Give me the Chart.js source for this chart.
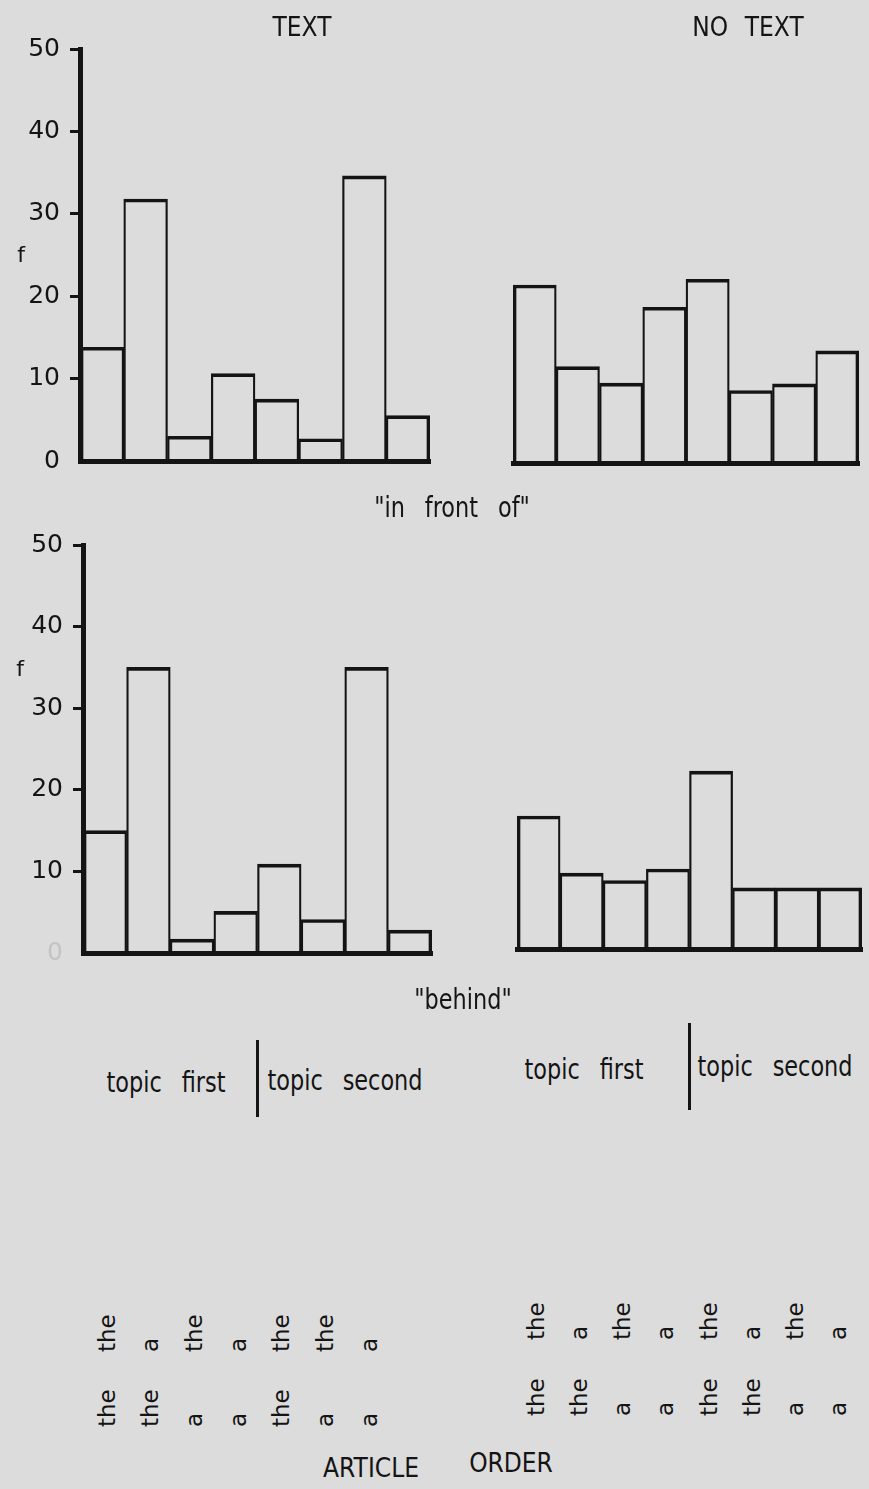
<!DOCTYPE html>
<html>
<head>
<meta charset="utf-8">
<title>Article order: "in front of" / "behind"</title>
<script src="https://cdn.jsdelivr.net/npm/chart.js@4.4.1/dist/chart.umd.min.js"></script>
<style>
  html, body { margin: 0; padding: 0; background: #dcdcdc; }
  #page { position: relative; width: 869px; height: 1489px; overflow: hidden; background: #dcdcdc;
          font-family: "DejaVu Sans", sans-serif; color: #141414; }
  #page canvas { position: absolute; }
  .lbl { position: absolute; white-space: pre; line-height: 1; }
  .rot { position: absolute; white-space: pre; line-height: 1; font-size: 23px;
         transform-origin: 0 0; transform: rotate(-90deg); }
  .divider { position: absolute; width: 3px; background: #141414; }
</style>
</head>
<body>
<div id="page">
  <canvas id="textFront" width="440" height="500" style="left:0;top:0"></canvas>
  <canvas id="noTextFront" width="429" height="500" style="left:440px;top:0"></canvas>
  <canvas id="textBehind" width="440" height="499" style="left:0;top:490px"></canvas>
  <canvas id="noTextBehind" width="429" height="499" style="left:440px;top:490px"></canvas>
</div>
<script>
// bar heights (f), left to right
const textFront    = [13.8, 31.8, 3.0, 10.6, 7.5, 2.7, 34.6, 5.5];
const noTextFront  = [21.6, 11.7, 9.7, 18.9, 22.3, 8.8, 9.6, 13.6];
const textBehind   = [15.0, 35.0, 1.7, 5.1, 10.9, 4.1, 35.0, 2.8];
const noTextBehind = [16.3, 9.3, 8.4, 9.8, 21.8, 7.5, 7.5, 7.5];

const columns = [1, 2, 3, 4, 5, 6, 7, 8];
const yTicks = [0, 10, 20, 30, 40, 50];

// article order printed under the columns (upper row / lower row)
const textArticleTop      = ['the', 'a', 'the', 'a', 'the', 'the', 'a'];
const textArticleBottom   = ['the', 'the', 'a', 'a', 'the', 'a', 'a'];
const noTextArticleTop    = ['the', 'a', 'the', 'a', 'the', 'a', 'the', 'a'];
const noTextArticleBottom = ['the', 'the', 'a', 'a', 'the', 'the', 'a', 'a'];

const ink = '#141414';
const page = document.getElementById('page');

function panel(id, values, pad, axisWidth, zeroColor) {
  const last = values.length - 1;
  return new Chart(document.getElementById(id), {
    type: 'bar',
    data: {
      labels: columns,
      datasets: [{
        data: values,
        backgroundColor: 'rgba(0,0,0,0)',
        borderColor: ink,
        borderWidth: c => ({ top: 3, bottom: 0,
          left: c.dataIndex === 0 ? 3 : 1.6,
          right: c.dataIndex === last ? 3 : 1.6 }),
        borderSkipped: 'bottom',
        categoryPercentage: 1,
        barPercentage: 1
      }]
    },
    options: {
      responsive: false,
      animation: false,
      events: [],
      layout: { padding: pad },
      plugins: { legend: { display: false }, tooltip: { enabled: false } },
      scales: {
        x: {
          grid: { display: true, drawOnChartArea: false, drawTicks: false },
          ticks: { display: false },
          border: { display: true, width: 5, color: ink },
          afterFit: s => { s.height = 0; }
        },
        y: {
          display: axisWidth > 0,
          min: 0,
          max: 50,
          afterBuildTicks: s => { s.ticks = yTicks.map(v => ({ value: v })); },
          afterFit: s => { s.width = axisWidth; },
          grid: {
            drawOnChartArea: false,
            tickLength: 10,
            lineWidth: 3,
            color: c => (c.tick && c.tick.value === 0) ? 'rgba(0,0,0,0)' : ink
          },
          border: { display: true, width: 5, color: ink },
          ticks: {
            padding: 10,
            color: c => (c.tick && c.tick.value === 0) ? zeroColor : ink,
            font: { family: 'DejaVu Sans', size: 25 }
          }
        }
      }
    }
  });
}

const c1 = panel('textFront', textFront, { top: 49, right: 10, bottom: 39, left: 0 }, 80, ink);
const c2 = panel('noTextFront', noTextFront, { top: 51, right: 10, bottom: 37, left: 73 }, 0, ink);
const c3 = panel('textBehind', textBehind, { top: 55, right: 8, bottom: 36, left: 0 }, 83, '#c4c4c4');
const c4 = panel('noTextBehind', noTextBehind, { top: 51, right: 7, bottom: 40, left: 77 }, 0, ink);

function text(str, cx, baseline, size, sx, ws) {
  const el = document.createElement('span');
  el.className = 'lbl';
  el.textContent = str;
  el.style.fontSize = size + 'px';
  el.style.wordSpacing = (ws || 0) + 'px';
  el.style.left = cx + 'px';
  el.style.top = (baseline - 0.846 * size) + 'px';
  el.style.transform = 'translateX(-50%) scaleX(' + sx + ')';
  page.appendChild(el);
}

function articles(chart, canvasLeft, words, startY, shift) {
  const xs = chart.scales.x;
  words.forEach((w, i) => {
    const el = document.createElement('span');
    el.className = 'rot';
    el.textContent = w;
    const baseX = canvasLeft + xs.getPixelForValue(i) + shift;
    el.style.left = (baseX - 0.846 * 23) + 'px';
    el.style.top = startY + 'px';
    page.appendChild(el);
  });
}

function divider(chart, canvasLeft, y1, y2) {
  const xs = chart.scales.x;
  const x = canvasLeft + (xs.getPixelForValue(3) + xs.getPixelForValue(4)) / 2;
  const el = document.createElement('div');
  el.className = 'divider';
  el.style.left = (x - 1.5) + 'px';
  el.style.top = y1 + 'px';
  el.style.height = (y2 - y1) + 'px';
  page.appendChild(el);
}

// headings and captions
text('TEXT', 302, 36, 26, 0.9);
text('NO TEXT', 748, 36, 26, 0.9, 10);
text('f', 21, 263, 22, 1);
text('f', 20, 677, 22, 1);
text('"in front of"', 452, 518, 28, 0.8, 16);
text('"behind"', 463, 1010, 28, 0.8, 16);

text('topic first', 166, 1093, 28, 0.8, 16);
text('topic second', 345, 1091, 28, 0.8, 16);
text('topic first', 584, 1080, 28, 0.8, 16);
text('topic second', 775, 1077, 28, 0.8, 16);
divider(c3, 0, 1040, 1117);
divider(c4, 440, 1023, 1110);

articles(c3, 0, textArticleTop, 1352, 10.5);
articles(c3, 0, textArticleBottom, 1427, 10.5);
articles(c4, 440, noTextArticleTop, 1340, 6);
articles(c4, 440, noTextArticleBottom, 1416, 6);

text('ARTICLE', 371, 1477, 26, 0.9);
text('ORDER', 511, 1472, 26, 0.9);
</script>
</body>
</html>
